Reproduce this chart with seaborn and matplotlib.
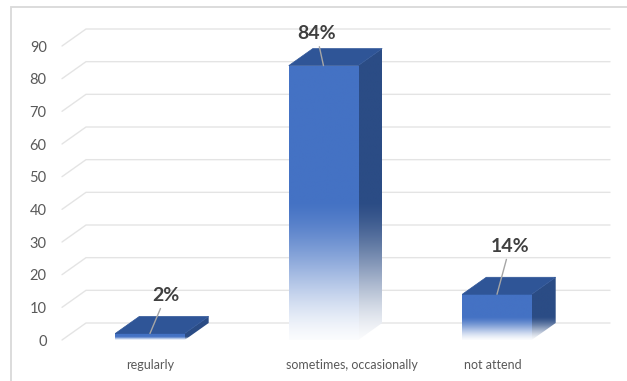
import numpy as np
import pandas as pd
import matplotlib
matplotlib.use("Agg")
import matplotlib.pyplot as plt
import seaborn as sns
from matplotlib.patches import Polygon, Rectangle
from matplotlib.colors import to_rgb

# ---- data ----
categories = ["regularly", "sometimes, occasionally", "not attend"]
values = [2, 84, 14]
value_labels = ["2%", "84%", "14%"]
yticks = [0, 10, 20, 30, 40, 50, 60, 70, 80, 90]

# ---- style ----
FRONT = "#4472C4"
TOP = "#2F5597"
SIDE = "#2B4C85"
GRID = "#E4E4E4"
TEXT = "#595959"
LABEL = "#404040"
label_offsets_px = [(16, 38), (-7, 32), (13, 48)]
xlabel_offsets_px = [0, 28, -4]

sns.set_theme(style="white")
plt.rcParams["font.family"] = ["Lato", "DejaVu Sans"]

W, H, DPI = 627, 381, 100
fig = plt.figure(figsize=(W / DPI, H / DPI), dpi=DPI)
fig.patch.set_facecolor("white")
AX_L, AX_R, AX_B, AX_T = 62, 586, 340, 26.4
ax = fig.add_axes([AX_L / W, 1 - AX_B / H, (AX_R - AX_L) / W, (AX_B - AX_T) / H])
ax.patch.set_visible(False)

df = pd.DataFrame({"category": categories, "value": values})
sns.barplot(data=df, x="category", y="value", order=categories, color=FRONT,
            saturation=1, width=0.4, ax=ax, zorder=3)

XLIM = (-0.507, 2.513)
YLIM = (0, 96)

px_per_x = (AX_R - AX_L) / (XLIM[1] - XLIM[0])
px_per_y = (AX_B - AX_T) / (YLIM[1] - YLIM[0])
dx = 24 / px_per_x
dy = 17 / px_per_y

# 3D-style gridlines (floor edge + back wall)
for v in yticks:
    ax.plot([XLIM[0], XLIM[0] + dx, XLIM[1] + dx], [v, v + dy, v + dy],
            color=GRID, lw=1.0, clip_on=False, zorder=0)


def grad_img(color, y0, y1, h, n=256, fade=0.5, floor=0.02):
    ys = np.linspace(y0, y1, n)
    t = np.clip(ys / max(fade * h, 1e-6), 0, 1)
    mix = t * t * (3 - 2 * t) * 0.5 + t * 0.5  # soft ease
    mix = floor + (1 - floor) * mix
    c = np.array(to_rgb(color))
    rgb = (1 - mix)[:, None] * np.ones(3) + mix[:, None] * c
    return rgb[:, None, :]


for patch in ax.patches[:len(values)]:
    x0 = patch.get_x()
    w = patch.get_width()
    h = patch.get_height()
    x1 = x0 + w
    # front face gradient
    im = ax.imshow(grad_img(FRONT, 0, h, h), extent=[x0, x1, 0, h], origin="lower",
                   aspect="auto", zorder=3, interpolation="bilinear")
    im.set_clip_path(patch)
    patch.set_facecolor("none")
    patch.set_edgecolor("none")
    # side face
    side = Polygon([(x1, 0), (x1 + dx, dy), (x1 + dx, h + dy), (x1, h)],
                   closed=True, transform=ax.transData, facecolor="none", edgecolor="none")
    ax.add_patch(side)
    ims = ax.imshow(grad_img(SIDE, 0, h + dy, h), extent=[x1, x1 + dx, 0, h + dy],
                    origin="lower", aspect="auto", zorder=2.9, interpolation="bilinear")
    ims.set_clip_path(side)
    # top face
    top = Polygon([(x0, h), (x1, h), (x1 + dx, h + dy), (x0 + dx, h + dy)], closed=True,
                  facecolor=TOP, edgecolor=TOP, lw=0.5, zorder=3.2)
    ax.add_patch(top)

ax.set_xlim(XLIM)
ax.set_ylim(YLIM)

# data labels with leader lines
for i, (patch, lab) in enumerate(zip(ax.patches[:len(values)], value_labels)):
    xc = patch.get_x() + patch.get_width() / 2
    ox, oy = label_offsets_px[i]
    ax.annotate(lab, xy=(xc, patch.get_height()), xytext=(ox, oy),
                textcoords="offset pixels", ha="center", va="center",
                fontsize=14, fontweight="bold", color=LABEL, zorder=5,
                annotation_clip=False,
                arrowprops=dict(arrowstyle="-", color="#A6A6A6", lw=1.0,
                                shrinkA=1, shrinkB=0))

# category labels
ax.set_xticks(range(len(categories)))
ax.set_xticklabels([])
for i, cat in enumerate(categories):
    ax.annotate(cat, xy=(i, 0), xytext=(xlabel_offsets_px[i], -25),
                textcoords="offset pixels", ha="center", va="center",
                fontsize=9, color=TEXT, annotation_clip=False)

ax.set_yticks(yticks)
ax.tick_params(axis="y", length=0, pad=11, labelsize=10.5, labelcolor=TEXT)
ax.tick_params(axis="x", length=0)
ax.set_xlabel("")
ax.set_ylabel("")
ax.grid(False)
sns.despine(ax=ax, left=True, bottom=True)

# chart border
fig.add_artist(Rectangle((11 / W, -0.05), 1.0, 1 - 6.5 / H + 0.05,
                         transform=fig.transFigure, fill=False,
                         edgecolor="#D9D9D9", lw=1.3))

fig.savefig("out.png", dpi=DPI)
